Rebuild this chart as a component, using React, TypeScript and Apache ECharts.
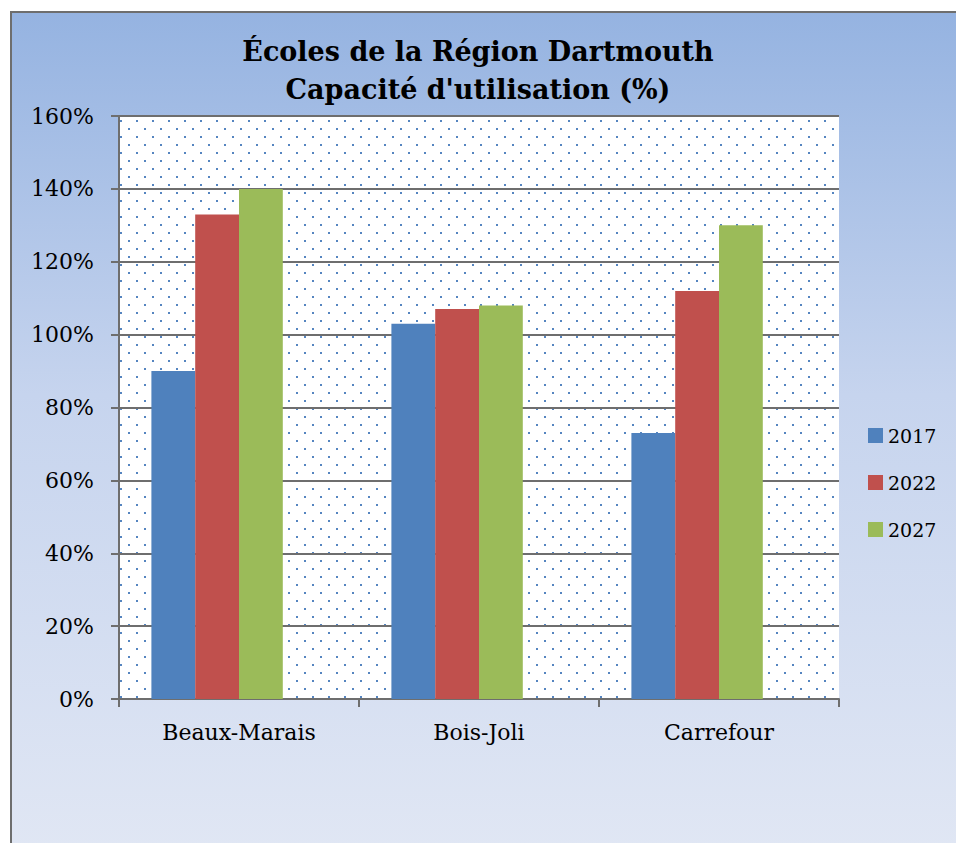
import React, { useEffect, useRef } from "react";
import * as echarts from "echarts";

const categories = ["Beaux-Marais", "Bois-Joli", "Carrefour"];
const seriesNames = ["2017", "2022", "2027"];
const values2017 = [90, 103, 73];
const values2022 = [133, 107, 112];
const values2027 = [140, 108, 130];
// the original chart reserves an empty fourth slot in every group
const emptySlot = [null, null, null];
const colors = ["#4f81bd", "#c0504d", "#9bbb59"];
const titleText = "Écoles de la Région Dartmouth\nCapacité d'utilisation (%)";

const FONT = "DejaVu Serif";

function makeDots(): string {
  const c = document.createElement("canvas");
  c.width = 16;
  c.height = 16;
  const ctx = c.getContext("2d")!;
  ctx.fillStyle = "#ffffff";
  ctx.fillRect(0, 0, 16, 16);
  ctx.fillStyle = "#5585c0";
  ctx.fillRect(0, 0, 2, 2);
  ctx.fillRect(8, 8, 2, 2);
  return c.toDataURL();
}

export default function App() {
  const ref = useRef<HTMLDivElement>(null);
  useEffect(() => {
    if (!ref.current) return;
    const chart = echarts.init(ref.current, undefined, { renderer: "svg" });
    const dots = makeDots();
    const data = [values2017, values2022, values2027];
    const series: any[] = seriesNames.map((name, i) => ({
      name,
      type: "bar",
      data: data[i],
      barGap: "0%",
      barCategoryGap: "27%",
      itemStyle: { color: colors[i] },
    }));
    series.push({
      name: "_empty",
      type: "bar",
      data: emptySlot,
      barGap: "0%",
      barCategoryGap: "27%",
    });
    chart.setOption({
      animation: false,
      backgroundColor: "transparent",
      graphic: [
        {
          type: "rect",
          z: -100,
          silent: true,
          shape: { x: 11, y: 12, width: 960, height: 850 },
          style: {
            fill: new echarts.graphic.LinearGradient(0, 0, 0, 1, [
              { offset: 0, color: "#95b3e1" },
              { offset: 0.45, color: "#c6d4ee" },
              { offset: 1, color: "#e1e7f4" },
            ]),
            stroke: "#6e6e6e",
            lineWidth: 2,
          },
        },
      ],
      title: {
        text: titleText,
        left: "center",
        top: 27,
        textStyle: {
          fontFamily: FONT,
          fontSize: 27,
          fontWeight: "bold",
          lineHeight: 38,
          color: "#000",
          align: "center",
        },
      },
      legend: {
        orient: "vertical",
        left: 863,
        top: 421,
        itemWidth: 15,
        itemHeight: 15,
        itemGap: 28,
        icon: "rect",
        data: seriesNames,
        textStyle: { fontFamily: FONT, fontSize: 19, color: "#000" },
      },
      grid: {
        left: 119,
        top: 116,
        width: 720,
        height: 583,
        show: true,
        borderWidth: 0,
        backgroundColor: { image: dots, repeat: "repeat", imageWidth: 16, imageHeight: 16 },
      },
      xAxis: {
        type: "category",
        data: categories,
        axisLine: { show: true, lineStyle: { color: "#6e6e6e", width: 2 } },
        axisTick: { show: true, length: 8, alignWithLabel: false, lineStyle: { color: "#6e6e6e", width: 2 } },
        axisLabel: { fontFamily: FONT, fontSize: 22, color: "#000", margin: 22 },
      },
      yAxis: {
        type: "value",
        min: 0,
        max: 160,
        interval: 20,
        axisLine: { show: true, lineStyle: { color: "#6e6e6e", width: 2 } },
        axisTick: { show: true, length: 8, lineStyle: { color: "#6e6e6e", width: 2 } },
        axisLabel: { fontFamily: FONT, fontSize: 22, color: "#000", margin: 25, formatter: "{value}%" },
        splitLine: { show: true, lineStyle: { color: "#6e6e6e", width: 2 } },
      },
      series,
    });
    return () => chart.dispose();
  }, []);
  return (
    <div
      ref={ref}
      style={{ position: "absolute", left: 0, top: 0, width: 956, height: 843 }}
    />
  );
}
